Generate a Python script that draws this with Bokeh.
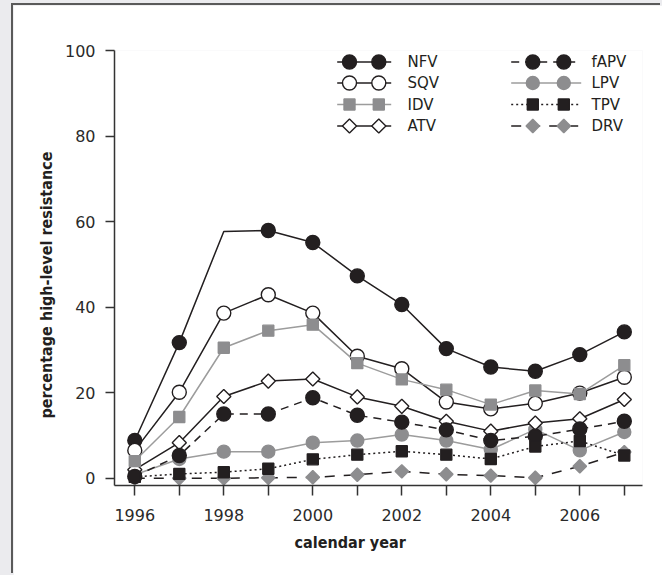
import numpy as np
from bokeh.plotting import figure
from bokeh.layouts import column
from bokeh.models import Range1d, FixedTicker, Title
from bokeh.core.properties import value
from bokeh.embed import file_html
from bokeh.resources import INLINE

# ---------------- data ----------------
years = [1996, 1997, 1998, 1999, 2000, 2001, 2002, 2003, 2004, 2005, 2006, 2007]
NFV  = [8.8, 31.7, 57.7, 57.9, 55.1, 47.3, 40.6, 30.3, 26.0, 25.0, 28.9, 34.2]
SQV  = [6.5, 20.1, 38.6, 42.9, 38.6, 28.5, 25.6, 17.8, 16.2, 17.5, 19.9, 23.6]
IDV  = [4.0, 14.3, 30.5, 34.5, 35.9, 26.9, 23.1, 20.7, 17.2, 20.5, 19.7, 26.4]
ATV  = [2.0, 8.3, 19.1, 22.7, 23.2, 19.0, 16.8, 13.3, 11.0, 12.9, 13.9, 18.4]
fAPV = [0.4, 5.3, 15.0, 15.0, 18.8, 14.7, 13.1, 11.3, 8.8, 9.8, 11.5, 13.3]
LPV  = [0.8, 4.5, 6.2, 6.2, 8.3, 8.8, 10.2, 8.8, 6.7, 11.4, 6.5, 10.8]
TPV  = [0.3, 1.0, 1.4, 2.2, 4.4, 5.5, 6.3, 5.5, 4.5, 7.4, 8.7, 5.3]
DRV  = [0.0, 0.0, 0.0, 0.1, 0.2, 0.8, 1.6, 0.9, 0.6, 0.1, 2.8, 6.1]
NFV_unmarked_years = [1998]
y_ticks = [0, 20, 40, 60, 80, 100]
x_label_years = [1996, 1998, 2000, 2002, 2004, 2006]

BLACK = "#231f20"
GRAY = "#8d8d8f"
GRAYLINE = "#9c9c9c"

styles = {
    "NFV":  dict(lc=BLACK, dash="solid", m="circle", s=14, a=0, fill=BLACK, out=BLACK),
    "SQV":  dict(lc=BLACK, dash="solid", m="circle", s=14, a=0, fill="white", out=BLACK),
    "IDV":  dict(lc=GRAYLINE, dash="solid", m="square", s=11, a=0, fill=GRAY, out=GRAY),
    "ATV":  dict(lc=BLACK, dash="solid", m="square", s=10, a=np.pi / 4, fill="white", out=BLACK),
    "fAPV": dict(lc=BLACK, dash="8 6", m="circle", s=14, a=0, fill=BLACK, out=BLACK),
    "LPV":  dict(lc=GRAYLINE, dash="solid", m="circle", s=13, a=0, fill=GRAY, out=GRAY),
    "TPV":  dict(lc=BLACK, dash="2 3", m="square", s=11, a=0, fill=BLACK, out=BLACK),
    "DRV":  dict(lc=BLACK, dash="10 9", m="square", s=9.5, a=np.pi / 4, fill=GRAY, out=GRAY),
}
values = {"NFV": NFV, "SQV": SQV, "IDV": IDV, "ATV": ATV,
          "fAPV": fAPV, "LPV": LPV, "TPV": TPV, "DRV": DRV}
draw_order = ["DRV", "LPV", "ATV", "fAPV", "TPV", "NFV", "SQV", "IDV"]

FONT = "DejaVu Sans"
LABEL_FONT = "DejaVu Sans Condensed"

p = figure(width=649, height=570, output_backend="svg", toolbar_location=None,
           x_range=Range1d(1995.544, 2007.409), y_range=Range1d(-1.71, 100),
           min_border_left=101, min_border_right=20, min_border_top=45,
           min_border_bottom=90)
p.margin = (5, 0, 0, 13)
p.outline_line_color = None
p.grid.visible = False
p.background_fill_color = "white"
p.border_fill_color = "white"
p.styles = {"box-shadow": "-2px -2px 0 0 #5a5a5a"}

# page-pixel ranges for the legend layout
p.extra_x_ranges = {"px": Range1d(114, 642)}
p.extra_y_ranges = {"py": Range1d(485, 50)}

for ax in (p.xaxis[0], p.yaxis[0]):
    ax.axis_line_color = "#333333"
    ax.axis_line_width = 1.5
    ax.major_tick_line_color = "#333333"
    ax.major_tick_line_width = 1.5
    ax.minor_tick_line_color = None
    ax.major_tick_in = 0
    ax.major_label_text_font = FONT
    ax.major_label_text_font_size = "16px"
    ax.major_label_text_color = "#2a2a2a"

p.yaxis.ticker = FixedTicker(ticks=y_ticks)
p.yaxis.major_tick_out = 9
p.yaxis.major_label_standoff = 10
p.xaxis.ticker = FixedTicker(ticks=years)
p.xaxis.major_tick_out = 10
p.xaxis.major_label_standoff = 13
p.xaxis.major_label_overrides = {y: ("" if y not in x_label_years else str(y)) for y in years}

# series
for name in draw_order:
    st = styles[name]
    vals = values[name]
    p.line(years, vals, line_color=st["lc"], line_width=1.5, line_dash=st["dash"])
    mv = [np.nan if (name == "NFV" and yr in NFV_unmarked_years) else v
          for yr, v in zip(years, vals)]
    p.scatter(years, mv, marker=st["m"], size=st["s"], angle=st["a"],
              fill_color=st["fill"], line_color=st["out"], line_width=1.4)

# legend (layout in page pixels)
legend_cols = [
    (["NFV", "SQV", "IDV", "ATV"], 336.7, 390.7, [349.0, 378.3], 407.0),
    (["fAPV", "LPV", "TPV", "DRV"], 510.7, 580.7, [532.3, 563.3], 591.0),
]
row_y = [61.5, 82.5, 104.0, 125.5]
for names, x0, x1, mxs, tx in legend_cols:
    for name, ry in zip(names, row_y):
        st = styles[name]
        p.line([x0, x1], [ry, ry], x_range_name="px", y_range_name="py",
               line_color=st["lc"], line_width=1.5, line_dash=st["dash"])
        p.scatter(mxs, [ry, ry], x_range_name="px", y_range_name="py",
                  marker=st["m"], size=st["s"], angle=st["a"],
                  fill_color=st["fill"], line_color=st["out"], line_width=1.4)
        p.text([tx], [ry], text=[name], x_range_name="px", y_range_name="py",
               text_font=value(FONT), text_font_size="15px", text_color=BLACK,
               text_align="left", text_baseline="middle")

# axis titles
p.add_layout(Title(text="calendar year", align="left", offset=180,
                   text_font=LABEL_FONT, text_font_size="16px",
                   text_font_style="bold", text_color=BLACK, standoff=15), "below")
p.add_layout(Title(text="percentage high-level resistance", align="left", offset=67,
                   text_font=LABEL_FONT, text_font_size="16px",
                   text_font_style="bold", text_color=BLACK, standoff=12), "left")

page = column(p, styles={"background-color": "#ebebee"})

open("out.html", "w").write(file_html(page, INLINE))
